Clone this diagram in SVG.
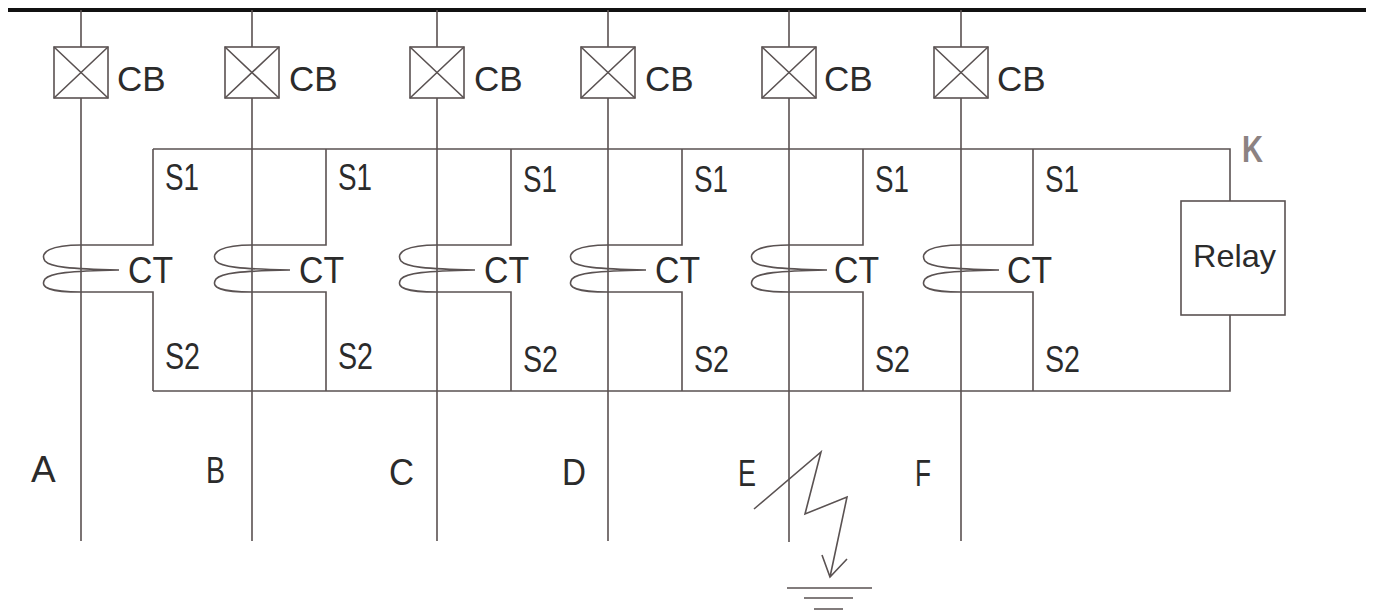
<svg xmlns="http://www.w3.org/2000/svg" width="1375" height="613" viewBox="0 0 1375 613">
<style>
.w{fill:none;stroke:#5a5252;stroke-width:1.6;stroke-linejoin:miter}
.bus{fill:none;stroke:#111;stroke-width:4}
.t{font-family:"Liberation Sans",Arial,sans-serif;fill:#2b2b2b}
.cb{font-size:35px}
.ct{font-size:37px}
.s{font-size:37px}
.l{font-size:37px}
.k{font-family:"Liberation Sans",Arial,sans-serif;font-size:37px;font-weight:bold;fill:#8c8282}
</style>
<defs>
<g id="cb"><rect x="-27" y="0" width="54" height="51" class="w"/><path d="M-27,0 L27,51 M27,0 L-27,51" class="w" stroke-width="1.2"/></g>
<path id="coil" class="w" d="M0,245 C-30,245 -42,252 -36,261 C-31,267 -12,269 38,270 C-12,271 -31,273 -36,279 C-42,288 -30,292 0,292"/>
</defs>
<rect width="1375" height="613" fill="#fff"/>
<g id="bus"><line x1="8" y1="10" x2="1366" y2="10" class="bus"/></g>
<g id="connectors">
<path class="w" d="M153,149 H1230 V201 M1230,315 V391 H153"/>
<path class="w" d="M81,10 V47 M81,98 V541 M252,10 V47 M252,98 V541 M437,10 V47 M437,98 V541 M608,10 V47 M608,98 V541 M789,10 V47 M789,98 V542 M961,10 V47 M961,98 V541"/>
</g>
<g id="feeder-A"><use href="#cb" x="81" y="47"/><text class="t cb" x="117" y="91">CB</text>
<path class="w" d="M153,149 V245 H81 M81,292 H153 V391"/><use href="#coil" x="81"/>
<text class="t s" x="165" y="190" textLength="34" lengthAdjust="spacingAndGlyphs">S1</text><text class="t ct" x="128" y="283" textLength="45" lengthAdjust="spacingAndGlyphs">CT</text><text class="t s" x="165" y="369" textLength="35" lengthAdjust="spacingAndGlyphs">S2</text>
<text class="t l" x="31" y="482">A</text></g>
<g id="feeder-B"><use href="#cb" x="252" y="47"/><text class="t cb" x="289" y="91">CB</text>
<path class="w" d="M326,149 V245 H252 M252,292 H326 V391"/><use href="#coil" x="252"/>
<text class="t s" x="338" y="190" textLength="34" lengthAdjust="spacingAndGlyphs">S1</text><text class="t ct" x="299" y="283" textLength="45" lengthAdjust="spacingAndGlyphs">CT</text><text class="t s" x="338" y="369" textLength="35" lengthAdjust="spacingAndGlyphs">S2</text>
<text class="t l" x="206" y="483" textLength="19" lengthAdjust="spacingAndGlyphs">B</text></g>
<g id="feeder-C"><use href="#cb" x="437" y="47"/><text class="t cb" x="474" y="91">CB</text>
<path class="w" d="M511,149 V245 H437 M437,292 H511 V391"/><use href="#coil" x="437"/>
<text class="t s" x="523" y="192" textLength="34" lengthAdjust="spacingAndGlyphs">S1</text><text class="t ct" x="484" y="283" textLength="45" lengthAdjust="spacingAndGlyphs">CT</text><text class="t s" x="523" y="372" textLength="35" lengthAdjust="spacingAndGlyphs">S2</text>
<text class="t l" x="389" y="485" textLength="25" lengthAdjust="spacingAndGlyphs">C</text></g>
<g id="feeder-D"><use href="#cb" x="608" y="47"/><text class="t cb" x="645" y="91">CB</text>
<path class="w" d="M682,149 V245 H608 M608,292 H682 V391"/><use href="#coil" x="608"/>
<text class="t s" x="694" y="192" textLength="34" lengthAdjust="spacingAndGlyphs">S1</text><text class="t ct" x="655" y="283" textLength="45" lengthAdjust="spacingAndGlyphs">CT</text><text class="t s" x="694" y="372" textLength="35" lengthAdjust="spacingAndGlyphs">S2</text>
<text class="t l" x="562" y="485" textLength="24" lengthAdjust="spacingAndGlyphs">D</text></g>
<g id="feeder-E"><use href="#cb" x="789" y="47"/><text class="t cb" x="824" y="91">CB</text>
<path class="w" d="M863,149 V245 H789 M789,292 H863 V391"/><use href="#coil" x="789"/>
<text class="t s" x="875" y="192" textLength="34" lengthAdjust="spacingAndGlyphs">S1</text><text class="t ct" x="834" y="283" textLength="45" lengthAdjust="spacingAndGlyphs">CT</text><text class="t s" x="875" y="372" textLength="35" lengthAdjust="spacingAndGlyphs">S2</text>
<text class="t l" x="738" y="486" textLength="18" lengthAdjust="spacingAndGlyphs">E</text></g>
<g id="feeder-F"><use href="#cb" x="961" y="47"/><text class="t cb" x="997" y="91">CB</text>
<path class="w" d="M1033,149 V245 H961 M961,292 H1033 V391"/><use href="#coil" x="961"/>
<text class="t s" x="1045" y="192" textLength="34" lengthAdjust="spacingAndGlyphs">S1</text><text class="t ct" x="1007" y="283" textLength="45" lengthAdjust="spacingAndGlyphs">CT</text><text class="t s" x="1045" y="372" textLength="35" lengthAdjust="spacingAndGlyphs">S2</text>
<text class="t l" x="915" y="486" textLength="16" lengthAdjust="spacingAndGlyphs">F</text></g>
<g id="relay"><rect x="1181" y="201" width="104" height="114" class="w"/><text class="t" x="1193" y="267" font-size="32" textLength="83" lengthAdjust="spacingAndGlyphs">Relay</text></g>
<g id="K"><text class="k" x="1242" y="162" textLength="21" lengthAdjust="spacingAndGlyphs">K</text></g>
<g id="fault">
<path class="w" d="M754,509 L821,452 L805,514 L847,497 L830,577 M822,555 L830,577 L847,559"/>
<path class="w" stroke-width="2" d="M787,588 H872 M804,598 H853 M814,609 H843"/>
</g>
</svg>
